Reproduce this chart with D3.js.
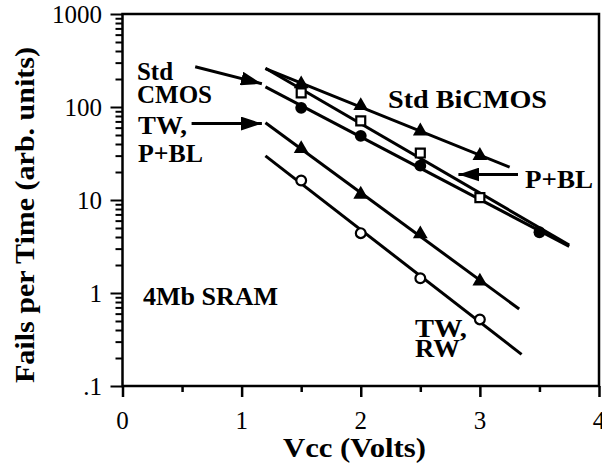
<!DOCTYPE html>
<html>
<head>
<meta charset="utf-8">
<script src="https://cdn.jsdelivr.net/npm/d3@7"></script>
<style>
  body { margin: 0; background: #fff; }
  svg { display: block; }
  text { font-family: "Liberation Serif", "Times New Roman", serif; fill: #000; }
</style>
</head>
<body>
<div id="chart"></div>
<script>
// Fails per time vs supply voltage, 4Mb SRAM
const voltsTicks = [0, 1, 2, 3, 4];
const failsTicks = [0.1, 1, 10, 100, 1000];
const failsTickLabels = [".1", "1", "10", "100", "1000"];

const bicmosVolts = [1.5, 2.0, 2.5, 3.0];
const bicmosFails = [177, 103, 55, 30];

const pblVolts = [1.5, 2.0, 2.5, 3.0];
const pblFails = [142, 71, 32, 10.6];

const cmosVolts = [1.5, 2.0, 2.5, 3.5];
const cmosFails = [98, 49, 23.4, 4.5];

const twPblVolts = [1.5, 2.0, 2.5, 3.0];
const twPblFails = [35.6, 11.5, 4.3, 1.34];

const twRwVolts = [1.5, 2.0, 2.5, 3.0];
const twRwFails = [16.2, 4.4, 1.44, 0.52];

// voltage span of each fitted line
const fitFrom = [1.2, 1.2, 1.2, 1.2, 1.2];
const fitTo = [3.25, 3.75, 3.75, 3.33, 3.35];

const width = 602, height = 468;
const margin = { top: 14, right: 3, bottom: 82, left: 122.5 };

const svg = d3.select("#chart").append("svg")
  .attr("width", width)
  .attr("height", height);

const x = d3.scaleLinear().domain([0, 4]).range([margin.left, width - margin.right]);
const y = d3.scaleLog().domain([0.1, 1000]).range([height - margin.bottom, margin.top]);

// arrow head
svg.append("defs").append("marker")
  .attr("id", "head")
  .attr("markerUnits", "userSpaceOnUse")
  .attr("viewBox", "0 0 21 14")
  .attr("refX", 21).attr("refY", 7)
  .attr("markerWidth", 21).attr("markerHeight", 14)
  .attr("orient", "auto")
  .append("path")
  .attr("d", "M0,0 L21,7 L0,14 Z")
  .attr("fill", "#000");

// frame
svg.append("rect")
  .attr("x", x(0)).attr("y", y(1000))
  .attr("width", x(4) - x(0)).attr("height", y(0.1) - y(1000))
  .attr("fill", "none").attr("stroke", "#000").attr("stroke-width", 2.5);

// x axis
const xAxis = svg.append("g")
  .attr("transform", `translate(0,${y(0.1)})`)
  .call(d3.axisBottom(x).tickValues(d3.range(0, 4.01, 0.5)).tickSize(0).tickFormat(""));
xAxis.select(".domain").remove();
xAxis.selectAll(".tick line")
  .attr("y2", (d) => (d % 1 === 0 ? 11 : 6))
  .attr("stroke", "#000").attr("stroke-width", 2.5);

svg.append("g").selectAll("text")
  .data(voltsTicks)
  .join("text")
  .attr("x", (d) => x(d))
  .attr("y", 429)
  .attr("text-anchor", "middle")
  .attr("font-size", 25)
  .text((d) => d);

// y axis
const minor = [];
for (let e = -1; e < 3; e++) {
  for (let k = 2; k <= 9; k++) minor.push(k * Math.pow(10, e));
}
const yAxis = svg.append("g")
  .attr("transform", `translate(${x(0)},0)`)
  .call(d3.axisLeft(y).tickValues(failsTicks.concat(minor)).tickSize(0).tickFormat(""));
yAxis.select(".domain").remove();
yAxis.selectAll(".tick line")
  .attr("x2", (d) => (failsTicks.includes(d) ? -12 : -7))
  .attr("stroke", "#000").attr("stroke-width", 2);

svg.append("g").selectAll("text")
  .data(failsTicks)
  .join("text")
  .attr("x", 102)
  .attr("y", (d) => y(d))
  .attr("dy", "0.34em")
  .attr("text-anchor", "end")
  .attr("font-size", 25)
  .text((d, i) => failsTickLabels[i]);

// axis titles
svg.append("text")
  .attr("x", 283).attr("y", 457)
  .attr("font-size", 28).attr("font-weight", "bold")
  .attr("textLength", 143).attr("lengthAdjust", "spacingAndGlyphs")
  .text("Vcc (Volts)");

svg.append("text")
  .attr("transform", "translate(34,383) rotate(-90)")
  .attr("font-size", 28).attr("font-weight", "bold")
  .attr("textLength", 336).attr("lengthAdjust", "spacingAndGlyphs")
  .text("Fails per Time (arb. units)");

// series and fitted lines
const series = [
  { volts: bicmosVolts, fails: bicmosFails, mark: "triFill" },
  { volts: pblVolts, fails: pblFails, mark: "squareOpen" },
  { volts: cmosVolts, fails: cmosFails, mark: "circleFill" },
  { volts: twPblVolts, fails: twPblFails, mark: "triFill" },
  { volts: twRwVolts, fails: twRwFails, mark: "circleOpen" },
];

function logFit(vs, fs) {
  const ls = fs.map((f) => Math.log10(f));
  const mx = d3.mean(vs), my = d3.mean(ls);
  let num = 0, den = 0;
  vs.forEach((v, i) => {
    num += (v - mx) * (ls[i] - my);
    den += (v - mx) * (v - mx);
  });
  const slope = num / den;
  return (v) => Math.pow(10, my + slope * (v - mx));
}

const line = d3.line().x((d) => x(d[0])).y((d) => y(d[1]));

const plot = svg.append("g");
series.forEach((s, i) => {
  const f = logFit(s.volts, s.fails);
  plot.append("path")
    .datum([[fitFrom[i], f(fitFrom[i])], [fitTo[i], f(fitTo[i])]])
    .attr("d", line)
    .attr("fill", "none")
    .attr("stroke", "#000")
    .attr("stroke-width", 3);
});

series.forEach((s) => {
  const pts = s.volts.map((v, i) => [v, s.fails[i]]);
  const g = plot.append("g").selectAll("path")
    .data(pts)
    .join("path")
    .attr("transform", (d) => `translate(${x(d[0])},${y(d[1])})`);
  if (s.mark === "triFill") {
    g.attr("d", d3.symbol(d3.symbolTriangle, 95)()).attr("fill", "#000");
  } else if (s.mark === "squareOpen") {
    g.attr("d", d3.symbol(d3.symbolSquare, 80)())
      .attr("fill", "#fff").attr("stroke", "#000").attr("stroke-width", 2.2);
  } else if (s.mark === "circleFill") {
    g.attr("d", d3.symbol(d3.symbolCircle, 110)()).attr("fill", "#000");
  } else {
    g.attr("d", d3.symbol(d3.symbolCircle, 75)())
      .attr("fill", "#fff").attr("stroke", "#000").attr("stroke-width", 2.2);
  }
});

// annotation arrows (data coordinates)
const arrows = [
  { from: [0.61, 271], to: [1.17, 178] },
  { from: [0.58, 66.4], to: [1.17, 66.4] },
  { from: [3.32, 18.8], to: [2.82, 18.8] },
];
svg.append("g").selectAll("line")
  .data(arrows)
  .join("line")
  .attr("x1", (d) => x(d.from[0])).attr("y1", (d) => y(d.from[1]))
  .attr("x2", (d) => x(d.to[0])).attr("y2", (d) => y(d.to[1]))
  .attr("stroke", "#000").attr("stroke-width", 3)
  .attr("marker-end", "url(#head)");

// labels
const labels = [
  { text: "Std", px: 137, py: 80, w: 36 },
  { text: "CMOS", px: 137, py: 103, w: 75 },
  { text: "TW,", px: 138, py: 134, w: 49 },
  { text: "P+BL", px: 138, py: 162, w: 65 },
  { text: "Std BiCMOS", px: 388, py: 108, w: 159 },
  { text: "P+BL", px: 525, py: 188, w: 68 },
  { text: "4Mb SRAM", px: 143, py: 305, w: 135 },
  { text: "TW,", px: 415, py: 337, w: 52 },
  { text: "RW", px: 415, py: 357, w: 45 },
];
svg.append("g").selectAll("text")
  .data(labels)
  .join("text")
  .attr("x", (d) => d.px)
  .attr("y", (d) => d.py)
  .attr("font-size", 26)
  .attr("font-weight", "bold")
  .attr("textLength", (d) => d.w)
  .attr("lengthAdjust", "spacingAndGlyphs")
  .text((d) => d.text);
</script>
</body>
</html>
